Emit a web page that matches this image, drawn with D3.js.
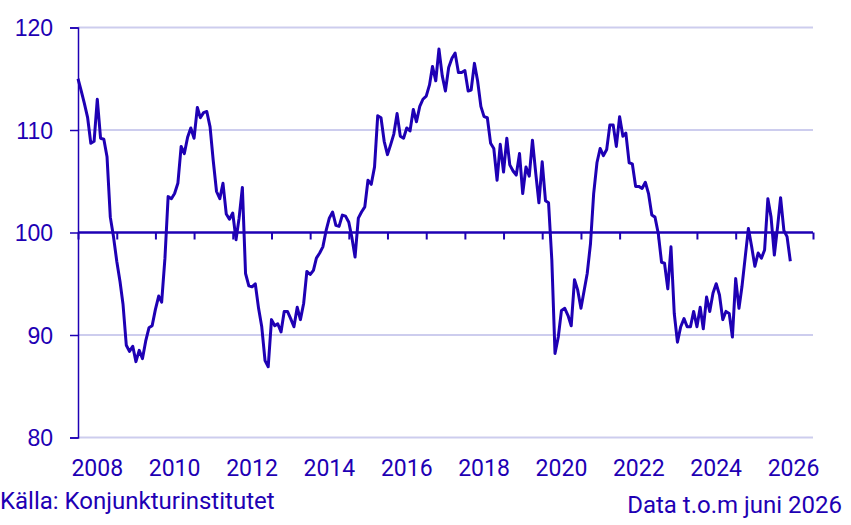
<!DOCTYPE html>
<html>
<head>
<meta charset="utf-8">
<script src="https://cdn.jsdelivr.net/npm/d3@7"></script>
<style>
    body { margin: 0; background: #fff; }
    svg { display: block; font-family: Roboto, "Noto Sans", sans-serif; }
</style>
</head>
<body>
<div id="chart"></div>
<script>
// Monthly index values, Jan 2008 .. Jun 2026
const startYear = 2008;
const values = [
    115.0, 113.8, 112.6, 111.2, 108.7, 108.9, 113.0, 109.2, 109.1, 107.4, 101.5, 99.6,
    97.2, 95.2, 93.0, 89.0, 88.4, 88.9, 87.4, 88.5, 87.7, 89.4, 90.7, 90.9,
    92.5, 93.8, 93.2, 97.5, 103.5, 103.3, 103.8, 104.8, 108.4, 107.7, 109.3, 110.2,
    109.2, 112.2, 111.2, 111.7, 111.8, 110.3, 107.0, 104.0, 103.3, 104.8, 101.8, 101.3,
    101.9, 99.3, 101.4, 104.4, 96.0, 94.8, 94.7, 95.0, 92.6, 90.8, 87.5, 86.9,
    91.5, 90.9, 91.1, 90.3, 92.3, 92.3, 91.6, 90.8, 92.7, 91.5, 93.1, 96.2,
    95.9, 96.3, 97.5, 98.0, 98.6, 100.2, 101.4, 102.0, 100.7, 100.6, 101.7, 101.6,
    101.0, 99.4, 97.6, 101.4, 102.0, 102.5, 105.1, 104.7, 106.4, 111.4, 111.2, 108.9,
    107.6, 108.6, 109.6, 111.6, 109.4, 109.2, 110.2, 109.9, 112.0, 110.8, 112.3, 113.0,
    113.3, 114.4, 116.2, 114.8, 117.9, 115.3, 113.8, 116.1, 117.0, 117.5, 115.6, 115.6,
    115.8, 113.8, 113.9, 116.5, 114.8, 112.3, 111.3, 111.2, 108.7, 108.2, 105.1, 108.6,
    105.9, 109.2, 106.6, 106.0, 105.6, 107.7, 103.8, 106.4, 105.5, 109.0, 105.8, 102.9,
    106.9, 103.1, 102.9, 97.3, 88.2, 89.8, 92.4, 92.6, 91.9, 90.9, 95.4, 94.4,
    92.6, 94.4, 96.0, 98.9, 103.8, 106.8, 108.2, 107.5, 108.1, 110.5, 110.5, 108.4,
    111.3, 109.4, 109.7, 106.8, 106.7, 104.5, 104.5, 104.3, 104.9, 103.8, 101.7, 101.5,
    99.9, 97.1, 97.0, 94.5, 98.6, 92.1, 89.3, 90.8, 91.6, 90.8, 90.8, 92.3,
    90.8, 92.7, 90.6, 93.7, 92.3, 94.1, 95.0, 93.9, 91.5, 92.3, 92.1, 89.8,
    95.5, 92.6, 94.7, 97.6, 100.4, 98.6, 96.7, 98.0, 97.5, 98.3, 103.3, 101.5,
    97.8, 100.6, 103.4, 100.2, 99.6, 97.2
];
const yTicks = [80, 90, 100, 110, 120];
const yearLabels = [2008, 2010, 2012, 2014, 2016, 2018, 2020, 2022, 2024, 2026];
const sourceText = 'Källa: Konjunkturinstitutet';
const noteText = 'Data t.o.m juni 2026';

const width = 851, height = 525;
const margin = {top: 27.5, right: 38, bottom: 87.5, left: 78};
const color = '#1e00b4';
const gridColor = '#cdcdee';

const data = values.map((v, i) => ({date: new Date(startYear, i, 1), value: v}));

const svg = d3.select('#chart')
    .append('svg')
    .attr('width', width)
    .attr('height', height);

const x = d3.scaleTime()
    .domain([new Date(2008, 0, 1), new Date(2027, 0, 1)])
    .range([margin.left, width - margin.right]);

const y = d3.scaleLinear()
    .domain([80, 120])
    .range([height - margin.bottom, margin.top]);

// Gridlines (not the 100 line)
svg.append('g')
    .selectAll('line')
    .data(yTicks.filter(d => d !== 100))
    .enter()
    .append('line')
    .attr('x1', margin.left)
    .attr('x2', width - margin.right)
    .attr('y1', d => y(d))
    .attr('y2', d => y(d))
    .attr('stroke', gridColor)
    .attr('stroke-width', 2);

// Y axis
const yAxis = svg.append('g')
    .attr('transform', `translate(${margin.left},0)`)
    .call(d3.axisLeft(y).tickValues(yTicks).tickSize(8).tickPadding(17));
yAxis.select('.domain').attr('stroke', color).attr('stroke-width', 1.5);
yAxis.selectAll('.tick line').attr('stroke', color).attr('stroke-width', 1.5);
yAxis.selectAll('.tick text')
    .attr('fill', color)
    .style('font-size', '23px')
    .attr('dy', '0.35em');

// 100 base line with yearly ticks
const years = d3.timeYear.range(new Date(2008, 0, 1), new Date(2027, 1, 1));
const baseAxis = svg.append('g')
    .attr('transform', `translate(0,${y(100)})`)
    .call(d3.axisBottom(x).tickValues(years).tickSize(7).tickFormat(''));
baseAxis.select('.domain')
    .attr('d', `M${x.range()[0]},0H${x.range()[1]}`)
    .attr('stroke', color)
    .attr('stroke-width', 2.5);
baseAxis.selectAll('.tick line').attr('stroke', color).attr('stroke-width', 2);

// Series line
const line = d3.line()
    .x(d => x(d.date))
    .y(d => y(d.value));

svg.append('path')
    .datum(data)
    .attr('fill', 'none')
    .attr('stroke', color)
    .attr('stroke-width', 3)
    .attr('stroke-linejoin', 'round')
    .attr('d', line);

// Year labels, centred in the year
svg.append('g')
    .selectAll('text')
    .data(yearLabels)
    .enter()
    .append('text')
    .attr('x', d => x(new Date(d, 6, 1)))
    .attr('y', 476)
    .attr('text-anchor', 'middle')
    .attr('fill', color)
    .style('font-size', '23px')
    .text(d => d);

// Footer
svg.append('text')
    .attr('x', 0)
    .attr('y', 509)
    .attr('fill', color)
    .style('font-size', '24px')
    .text(sourceText);

svg.append('text')
    .attr('x', 842)
    .attr('y', 513)
    .attr('text-anchor', 'end')
    .attr('fill', color)
    .style('font-size', '24px')
    .text(noteText);
</script>
</body>
</html>
